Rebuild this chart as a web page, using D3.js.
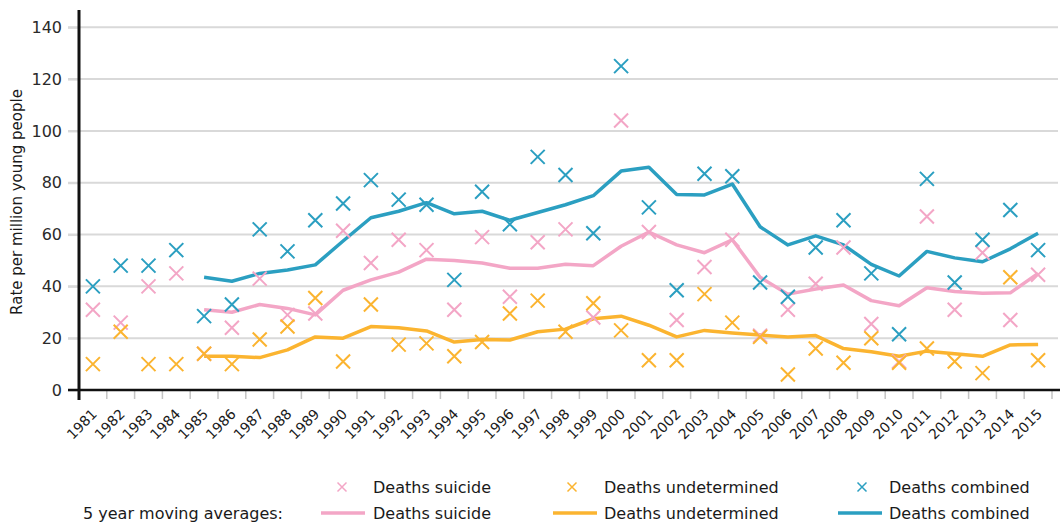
<!DOCTYPE html>
<html>
<head>
<meta charset="utf-8">
<script src="https://cdn.jsdelivr.net/npm/d3@7"></script>
<style>
  body { margin: 0; background: #fff; }
  svg { display: block; font-family: "DejaVu Sans", sans-serif; }
</style>
</head>
<body>
<svg id="chart" width="1060" height="524"></svg>
<script>
// data
let years = d3.range(1981, 2016).map(String)

let suicide = [31, 26, 40, 45, 14, 24, 43, 29, 29.5, 61.5,
               49, 58, 54, 31, 59, 36, 57, 62, 28, 104,
               61, 27, 47.5, 58, 21, 31, 41, 55, 25.5, 11,
               67, 31, 53, 27, 44.5]

let undetermined = [10, 22.5, 10, 10, 14, 10, 19.5, 24.5, 35.5, 11,
                    33, 17.5, 18, 13, 18.5, 29.5, 34.5, 22.5, 33.5, 23,
                    11.5, 11.5, 37, 26, 20.5, 6, 16, 10.5, 20, 10.5,
                    16, 11, 6.5, 43.5, 11.5]

let combined = [40, 48, 48, 54, 28.5, 33, 62, 53.5, 65.5, 72,
                81, 73.5, 71.5, 42.5, 76.5, 64, 90, 83, 60.5, 125,
                70.5, 38.5, 83.5, 82.5, 41.5, 36, 55, 65.5, 45, 21.5,
                81.5, 41.5, 58, 69.5, 54]

// 5 year moving averages (first value at 1985)
let avgSuicide = [null, null, null, null,
                  31, 30, 33, 31.5, 29, 38.5, 42.5, 45.5, 50.5, 50, 49,
                  47, 47, 48.5, 48, 55.5, 61, 56, 53, 58, 43.5,
                  37, 39, 40.5, 34.5, 32.5, 39.5, 38, 37.3, 37.5, 45]

let avgUndetermined = [null, null, null, null,
                       13, 13, 12.5, 15.5, 20.5, 20, 24.5, 24, 22.8, 18.5, 19.5,
                       19.3, 22.5, 23.5, 27.5, 28.5, 25, 20.5, 23, 22, 21.2,
                       20.5, 21, 16, 14.8, 13, 15, 14, 13, 17.4, 17.6]

let avgCombined = [null, null, null, null,
                   43.5, 42, 45, 46.3, 48.3, 57.5, 66.5, 69, 72.3, 68, 69,
                   65.5, 68.5, 71.5, 75, 84.5, 86, 75.5, 75.3, 79.5, 63,
                   56, 59.5, 56, 48.5, 44, 53.5, 51, 49.5, 54.5, 60.5]

let yTicks = [0, 20, 40, 60, 80, 100, 120, 140]

let pink = '#f3a6c6'
let orange = '#fbb430'
let blue = '#2b9fc1'

let seriesList = [
    {name: 'Deaths suicide', values: suicide, avg: avgSuicide, color: pink},
    {name: 'Deaths undetermined', values: undetermined, avg: avgUndetermined, color: orange},
    {name: 'Deaths combined', values: combined, avg: avgCombined, color: blue}
]

let svg = d3.select('#chart')

let x = d3.scaleBand().domain(years).range([79, 1052]).padding(0)
let y = d3.scaleLinear().domain([0, 140]).range([390, 27.3])

// gridlines
svg.append('g')
    .selectAll('line')
    .data(yTicks.filter(d => d > 0))
    .enter()
    .append('line')
    .attr('x1', 68).attr('x2', 1058)
    .attr('y1', d => y(d)).attr('y2', d => y(d))
    .attr('stroke', '#d9d9d9')
    .attr('stroke-width', 2)

// y tick labels
let yAxis = svg.append('g')
    .attr('transform', 'translate(79,0)')
    .call(d3.axisLeft(y).tickValues(yTicks).tickSize(11).tickPadding(6))
yAxis.select('.domain').remove()
yAxis.selectAll('.tick line').attr('stroke', '#d9d9d9').attr('stroke-width', 2)
yAxis.selectAll('.tick text')
    .attr('font-size', 16)
    .attr('font-family', 'DejaVu Sans')
    .attr('fill', '#2a2a2a')

// x tick marks at category boundaries
svg.append('g')
    .selectAll('line')
    .data(years)
    .enter()
    .append('line')
    .attr('x1', d => x(d) + x.bandwidth())
    .attr('x2', d => x(d) + x.bandwidth())
    .attr('y1', 390).attr('y2', 399)
    .attr('stroke', '#c4c4c4')
    .attr('stroke-width', 1.5)

// x labels
svg.append('g')
    .selectAll('text')
    .data(years)
    .enter()
    .append('text')
    .attr('transform', d => 'translate(' + (x(d) + x.bandwidth() / 2 + 5) + ',415) rotate(-45)')
    .attr('text-anchor', 'end')
    .attr('font-size', 14)
    .attr('fill', '#1a1a1a')
    .text(d => d)

// axis lines
svg.append('line')
    .attr('x1', 68).attr('x2', 1060)
    .attr('y1', 390).attr('y2', 390)
    .attr('stroke', '#111').attr('stroke-width', 2.5)
svg.append('line')
    .attr('x1', 79).attr('x2', 79)
    .attr('y1', 10).attr('y2', 400)
    .attr('stroke', '#111').attr('stroke-width', 3)

// y axis title
svg.append('text')
    .attr('transform', 'translate(22,202) rotate(-90)')
    .attr('text-anchor', 'middle')
    .attr('font-size', 15)
    .attr('fill', '#1a1a1a')
    .text('Rate per million young people')

let cx = d => x(d) + x.bandwidth() / 2
let cross = s => 'M' + (-s) + ',' + (-s) + 'L' + s + ',' + s + 'M' + (-s) + ',' + s + 'L' + s + ',' + (-s)

// moving average lines
let line = d3.line()
    .defined(d => d.v != null)
    .x(d => cx(d.year))
    .y(d => y(d.v))

seriesList.forEach(s => {
    svg.append('path')
        .datum(years.map((yr, i) => ({year: yr, v: s.avg[i]})))
        .attr('d', line)
        .attr('fill', 'none')
        .attr('stroke', s.color)
        .attr('stroke-width', 3.5)
        .attr('stroke-linejoin', 'round')
})

// yearly markers
seriesList.forEach(s => {
    svg.append('g')
        .selectAll('path')
        .data(years.map((yr, i) => ({year: yr, v: s.values[i]})))
        .enter()
        .append('path')
        .attr('transform', d => 'translate(' + cx(d.year) + ',' + y(d.v) + ')')
        .attr('d', cross(7))
        .attr('stroke', s.color)
        .attr('stroke-width', 2)
        .attr('fill', 'none')
})

// legend
let legendMarkX = [342, 572, 862]
let legendLineX = [321, 553, 838]
let legendTextX = [373, 604, 889]
let legend = svg.append('g').attr('font-size', 16).attr('fill', '#1a1a1a')

seriesList.forEach((s, i) => {
    legend.append('path')
        .attr('transform', 'translate(' + legendMarkX[i] + ',487)')
        .attr('d', cross(4.5))
        .attr('stroke', s.color)
        .attr('stroke-width', 1.5)
    legend.append('text')
        .attr('x', legendTextX[i]).attr('y', 487)
        .attr('dominant-baseline', 'central')
        .text(s.name)
    legend.append('line')
        .attr('x1', legendLineX[i]).attr('x2', legendLineX[i] + 44)
        .attr('y1', 513).attr('y2', 513)
        .attr('stroke', s.color)
        .attr('stroke-width', 3.5)
    legend.append('text')
        .attr('x', legendTextX[i]).attr('y', 513)
        .attr('dominant-baseline', 'central')
        .text(s.name)
})

legend.append('text')
    .attr('x', 83).attr('y', 513)
    .attr('dominant-baseline', 'central')
    .text('5 year moving averages:')
</script>
</body>
</html>
